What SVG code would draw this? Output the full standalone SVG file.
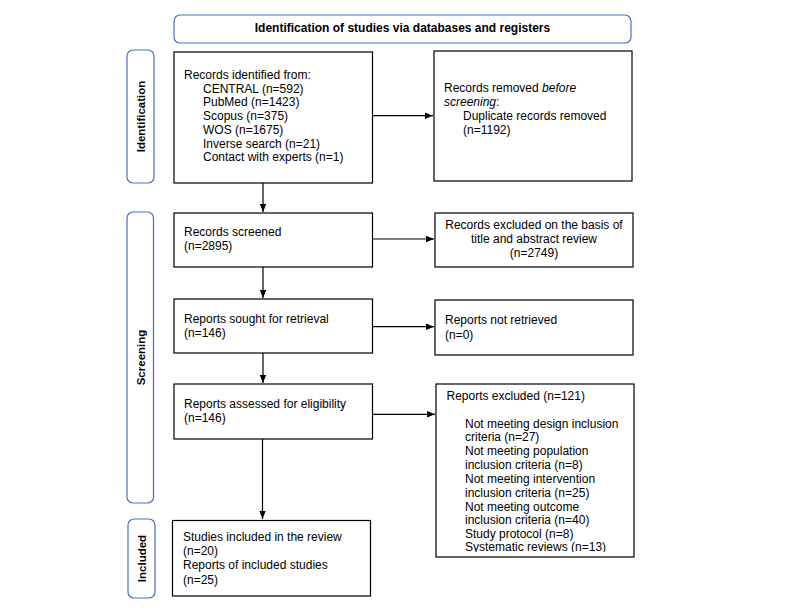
<svg xmlns="http://www.w3.org/2000/svg" width="800" height="616" viewBox="0 0 800 616">
<style>
.box{fill:#fff;stroke:#000;stroke-width:1.2}
.phase{fill:#fff;stroke:#4472C4;stroke-width:1.2}
text{font-family:"Liberation Sans",Arial,sans-serif;font-size:12px;fill:#000}
.b{font-weight:bold}
.lbl{font-weight:bold;font-size:11.5px}
.c{stroke:#000;stroke-width:1.2;fill:none;marker-end:url(#ah)}
</style>
<defs>
<marker id="ah" viewBox="0 0 10 10" refX="10" refY="5" markerWidth="8" markerHeight="8" markerUnits="userSpaceOnUse" orient="auto">
<path d="M0,1 L10,5 L0,9 Z" fill="#000"/>
</marker>
<clipPath id="clip4"><rect x="436" y="384" width="198" height="168"/></clipPath>
</defs>
<rect width="800" height="616" fill="#fff"/>

<g id="title">
<rect class="phase" x="174" y="15" width="457" height="28" rx="6"/>
<text class="b" x="402.5" y="31.5" text-anchor="middle">Identification of studies via databases and registers</text>
</g>

<g id="phase-identification">
<rect class="phase" x="127" y="50" width="27" height="133" rx="6"/>
<text class="lbl" transform="translate(145,116.5) rotate(-90)" text-anchor="middle">Identification</text>
</g>
<g id="phase-screening">
<rect class="phase" x="127" y="212" width="26.5" height="291" rx="6"/>
<text class="lbl" transform="translate(144.5,357.5) rotate(-90)" text-anchor="middle">Screening</text>
</g>
<g id="phase-included">
<rect class="phase" x="128" y="519" width="27" height="79" rx="6"/>
<text class="lbl" transform="translate(145.5,558.5) rotate(-90)" text-anchor="middle">Included</text>
</g>

<g id="n-identified">
<rect class="box" x="174" y="52" width="198.5" height="131"/>
<text x="184" y="79">Records identified from:</text>
<text x="203" y="92.7">CENTRAL (n=592)</text>
<text x="203" y="106.4">PubMed (n=1423)</text>
<text x="203" y="120.1">Scopus (n=375)</text>
<text x="203" y="133.8">WOS (n=1675)</text>
<text x="203" y="147.5">Inverse search (n=21)</text>
<text x="203" y="161.2">Contact with experts (n=1)</text>
</g>

<g id="n-removed">
<rect class="box" x="434" y="51" width="198" height="130"/>
<text x="444" y="92">Records removed <tspan font-style="italic">before</tspan></text>
<text x="444" y="105.8"><tspan font-style="italic">screening</tspan>:</text>
<text x="463" y="120">Duplicate records removed</text>
<text x="463" y="134">(n=1192)</text>
</g>

<g id="n-screened">
<rect class="box" x="174" y="213" width="198.5" height="54"/>
<text x="184" y="236">Records screened</text>
<text x="184" y="250">(n=2895)</text>
</g>

<g id="n-excluded-ta">
<rect class="box" x="435" y="213" width="198" height="54"/>
<text x="534" y="229.3" text-anchor="middle">Records excluded on the basis of</text>
<text x="534" y="243.3" text-anchor="middle">title and abstract review</text>
<text x="534" y="257" text-anchor="middle">(n=2749)</text>
</g>

<g id="n-sought">
<rect class="box" x="174" y="299" width="198.5" height="54"/>
<text x="184" y="322.5">Reports sought for retrieval</text>
<text x="184" y="337">(n=146)</text>
</g>

<g id="n-not-retrieved">
<rect class="box" x="435" y="300" width="198" height="55"/>
<text x="445" y="324.3">Reports not retrieved</text>
<text x="445" y="339.3">(n=0)</text>
</g>

<g id="n-assessed">
<rect class="box" x="174" y="384" width="198.5" height="55"/>
<text x="184" y="408.3">Reports assessed for eligibility</text>
<text x="184" y="422.3">(n=146)</text>
</g>

<g id="n-excluded-reports">
<rect class="box" x="436" y="384" width="198" height="173"/>
<g clip-path="url(#clip4)">
<text x="446.5" y="400">Reports excluded (n=121)</text>
<text x="465" y="427.6">Not meeting design inclusion</text>
<text x="465" y="441.2">criteria (n=27)</text>
<text x="465" y="455">Not meeting population</text>
<text x="465" y="469.2">inclusion criteria (n=8)</text>
<text x="465" y="483">Not meeting intervention</text>
<text x="465" y="497">inclusion criteria (n=25)</text>
<text x="465" y="510.5">Not meeting outcome</text>
<text x="465" y="524.3">inclusion criteria (n=40)</text>
<text x="465" y="537.8">Study protocol (n=8)</text>
<text x="465" y="551.3">Systematic reviews (n=13)</text>
</g>
</g>

<g id="n-included">
<rect class="box" x="172.5" y="520.5" width="198" height="75.5"/>
<text x="183" y="541">Studies included in the review</text>
<text x="183" y="555.3">(n=20)</text>
<text x="183" y="569.3">Reports of included studies</text>
<text x="183" y="583.5">(n=25)</text>
</g>

<g id="connectors">
<line class="c" x1="372.5" y1="115.7" x2="433" y2="115.7"/>
<line class="c" x1="372.5" y1="239" x2="434" y2="239"/>
<line class="c" x1="372.5" y1="326.7" x2="434" y2="326.7"/>
<line class="c" x1="372.5" y1="414.3" x2="435" y2="414.3"/>
<line class="c" x1="263" y1="183" x2="263" y2="212"/>
<line class="c" x1="263" y1="267" x2="263" y2="298"/>
<line class="c" x1="263" y1="353" x2="263" y2="383"/>
<line class="c" x1="262.5" y1="439" x2="262.5" y2="519"/>
</g>
</svg>
